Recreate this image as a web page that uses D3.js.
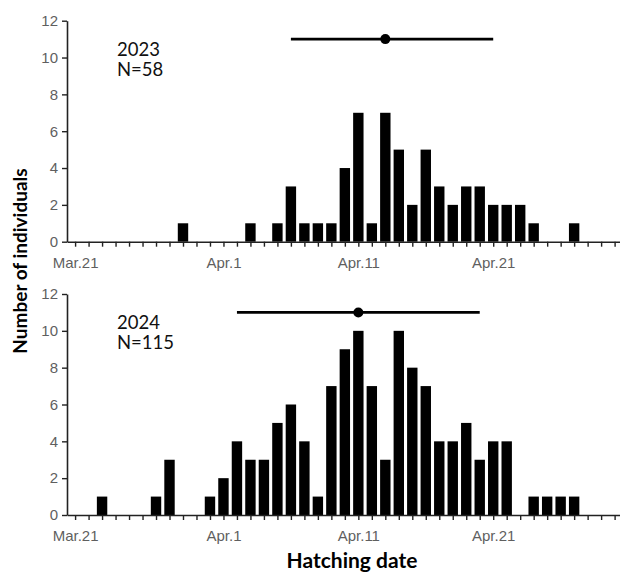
<!DOCTYPE html>
<html>
<head>
<meta charset="utf-8">
<script src="https://cdn.jsdelivr.net/npm/d3@7"></script>
<style>
  body { margin: 0; background: #fff; }
  svg { display: block; }
</style>
</head>
<body>
<div id="chart"></div>
<script>
// days counted from Mar.21 (0 = Mar.21)
const days2023 = [8, 13, 15, 16, 17, 18, 19, 20, 21, 22, 23, 24, 25, 26, 27, 28, 29, 30, 31, 32, 33, 34, 37]
const counts2023 = [1, 1, 1, 3, 1, 1, 1, 4, 7, 1, 7, 5, 2, 5, 3, 2, 3, 3, 2, 2, 2, 1, 1]
const days2024 = [2, 6, 7, 10, 11, 12, 13, 14, 15, 16, 17, 18, 19, 20, 21, 22, 23, 24, 25, 26, 27, 28, 29, 30, 31, 32, 34, 35, 36, 37]
const counts2024 = [1, 1, 3, 1, 2, 4, 3, 3, 5, 6, 4, 1, 7, 9, 10, 7, 3, 10, 8, 7, 4, 4, 5, 3, 4, 4, 1, 1, 1, 1]
// mean and spread (low, mean, high) in days
const mean2023 = [16, 23, 31]
const mean2024 = [12, 21, 30]
const tickLabels = {0: "Mar.21", 11: "Apr.1", 21: "Apr.11", 31: "Apr.21"}
const yTicks = [0, 2, 4, 6, 8, 10, 12]

const width = 620, height = 572
const svg = d3.select("#chart").append("svg")
    .attr("width", width)
    .attr("height", height)

const x = d3.scaleLinear().domain([-0.6, 40.4]).range([67, 620])
const barW = 10.4

function panel(top, days, counts, mean, year, n) {
    const y = d3.scaleLinear().domain([0, 12]).range([top + 221, top])
    const g = svg.append("g")

    // bars
    g.append("g").selectAll("rect")
        .data(days.map((d, i) => ({day: d, n: counts[i]})))
        .enter().append("rect")
        .attr("x", d => x(d.day) - barW / 2)
        .attr("y", d => y(d.n))
        .attr("width", barW)
        .attr("height", d => y(0) - y(d.n))
        .attr("fill", "#000")

    // x axis
    const xAxis = g.append("g")
        .attr("transform", `translate(0,${y(0)})`)
        .call(d3.axisBottom(x)
            .tickValues(d3.range(0, 41))
            .tickSize(5)
            .tickSizeOuter(0)
            .tickFormat(d => tickLabels[d] || ""))
    xAxis.select(".domain").attr("stroke", "#222").attr("stroke-width", 1.6)
    xAxis.selectAll(".tick line").attr("stroke", "#222").attr("stroke-width", 1.4)
    xAxis.selectAll(".tick text")
        .attr("dy", "1.2em")
        .attr("fill", "#5f5f5f")
        .style("font-family", "'Liberation Sans', Arial, sans-serif")
        .style("font-size", "15px")

    // y axis
    const yAxis = g.append("g")
        .attr("transform", `translate(${x(-0.6)},0)`)
        .call(d3.axisLeft(y)
            .tickValues(yTicks)
            .tickSize(5)
            .tickSizeOuter(0))
    yAxis.select(".domain").attr("stroke", "#222").attr("stroke-width", 1.6)
    yAxis.selectAll(".tick line").attr("stroke", "#222").attr("stroke-width", 1.4)
    yAxis.selectAll(".tick text")
        .attr("x", -9)
        .attr("fill", "#5f5f5f")
        .style("font-family", "'Liberation Sans', Arial, sans-serif")
        .style("font-size", "15px")

    // mean ± spread
    g.append("line")
        .attr("x1", x(mean[0])).attr("x2", x(mean[2]))
        .attr("y1", y(11)).attr("y2", y(11))
        .attr("stroke", "#000").attr("stroke-width", 2.6)
    g.append("circle")
        .attr("cx", x(mean[1])).attr("cy", y(11))
        .attr("r", 5)
        .attr("fill", "#000")

    // year and sample size
    g.append("text")
        .attr("x", 117)
        .attr("y", y(10.1))
        .style("font-family", "Lato, sans-serif")
        .style("font-size", "18.5px")
        .attr("fill", "#111")
        .text(year)
    g.append("text")
        .attr("x", 117)
        .attr("y", y(10.1) + 20.5)
        .style("font-family", "Lato, sans-serif")
        .style("font-size", "18.5px")
        .attr("fill", "#111")
        .text("N=" + n)
}

panel(20.7, days2023, counts2023, mean2023, "2023", 58)
panel(294, days2024, counts2024, mean2024, "2024", 115)

svg.append("text")
    .attr("transform", "translate(27,261) rotate(-90)")
    .attr("text-anchor", "middle")
    .style("font-family", "Lato, sans-serif")
    .style("font-weight", "bold")
    .style("font-size", "19px")
    .text("Number of individuals")

svg.append("text")
    .attr("x", 352)
    .attr("y", 568)
    .attr("text-anchor", "middle")
    .style("font-family", "Lato, sans-serif")
    .style("font-weight", "bold")
    .style("font-size", "21px")
    .text("Hatching date")
</script>
</body>
</html>
